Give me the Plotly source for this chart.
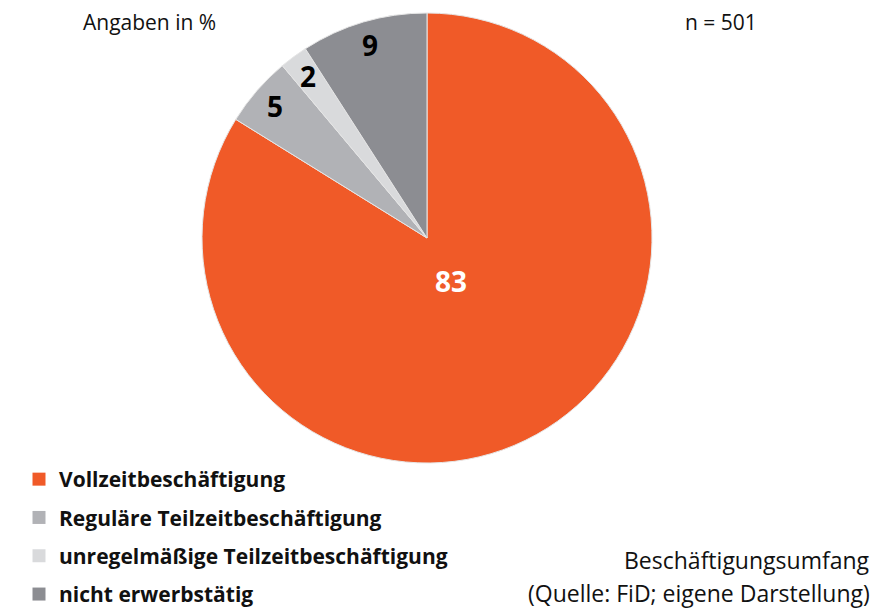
import math

import plotly.graph_objects as go

# Beschäftigungsumfang, Angaben in %
categories = [
    "Vollzeitbeschäftigung",
    "Reguläre Teilzeitbeschäftigung",
    "unregelmäßige Teilzeitbeschäftigung",
    "nicht erwerbstätig",
]
shares = [83, 5, 2, 9]
colors = ["#F05A28", "#B1B2B6", "#D9DADC", "#8C8D92"]
label_colors = ["white", "black", "black", "black"]
# how far out along the radius each value label sits (fraction of radius)
label_radius = [0.22, 0.895, 0.895, 0.895]

FONT = "'Open Sans', Lato, sans-serif"
W, H = 884, 609
OFF = 8  # page body margin shifts the figure in the window


def px_x(x):
    return (x - OFF) / W


def px_y(y):
    return 1 - (y - OFF) / H


# pie placement (window pixels)
CX, CY, R = 427, 238, 225
dom_x = [px_x(CX - R), px_x(CX + R)]
dom_y = [px_y(CY + R), px_y(CY - R)]

fig = go.Figure()
fig.add_trace(
    go.Pie(
        labels=categories,
        values=shares,
        sort=False,
        direction="clockwise",
        rotation=0,
        marker=dict(colors=colors, line=dict(color="#E6E6E6", width=1)),
        textinfo="none",
        showlegend=False,
        hoverinfo="label+value",
        domain=dict(x=dom_x, y=dom_y),
    )
)

# value labels placed at each slice's mid angle
annotations = []
total = sum(shares)
cum = 0
for value, color, rf in zip(shares, label_colors, label_radius):
    mid = (cum + value / 2) / total * 2 * math.pi
    cum += value
    lx = CX + rf * R * math.sin(mid)
    ly = CY - rf * R * math.cos(mid)
    annotations.append(
        dict(text=f"<b>{value}</b>", x=px_x(lx), y=px_y(ly), xref="paper",
             yref="paper", xanchor="center", yanchor="middle",
             showarrow=False, font=dict(family=FONT, size=28, color=color))
    )

# legend entries, one group each so they get the wider spacing of the original
for name, color in zip(categories, colors):
    fig.add_trace(
        go.Scatter(
            x=[None],
            y=[None],
            mode="markers",
            name=name,
            legendgroup=name,
            marker=dict(symbol="square", size=13, color=color),
        )
    )


def note(text, x, y, size, xanchor="center"):
    return dict(text=text, x=px_x(x), y=px_y(y), xref="paper", yref="paper",
                xanchor=xanchor, yanchor="middle", showarrow=False,
                borderpad=0, font=dict(size=size))


annotations += [
    note("Angaben in %", 149, 22, 21),
    note("n = 501", 721, 22, 21),
    note("Beschäftigungsumfang", 871, 560, 23, "right"),
    note("(Quelle: FiD; eigene Darstellung)", 871, 593, 23, "right"),
]

fig.update_layout(
    width=W,
    height=H,
    margin=dict(l=0, r=0, t=0, b=0),
    paper_bgcolor="white",
    plot_bgcolor="white",
    font=dict(family=FONT, color="#111111"),
    xaxis=dict(visible=False),
    yaxis=dict(visible=False),
    legend=dict(
        x=px_x(19),
        y=px_y(615),
        xanchor="left",
        yanchor="bottom",
        bgcolor="rgba(0,0,0,0)",
        traceorder="grouped",
        tracegroupgap=8,
        font=dict(family=FONT, size=21, color="#111111", weight="bold"),
        itemclick=False,
        itemdoubleclick=False,
    ),
    annotations=annotations,
)

fig.write_html("out.html")
